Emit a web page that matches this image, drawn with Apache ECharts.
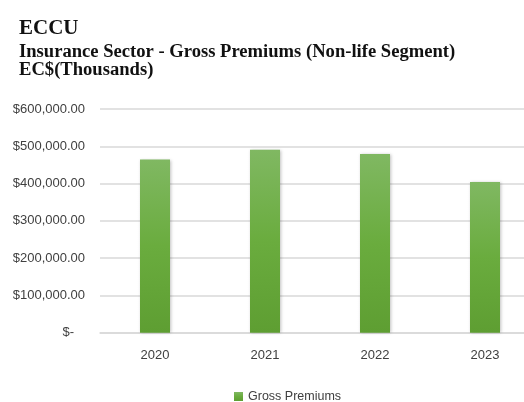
<!DOCTYPE html>
<html>
<head>
<meta charset="utf-8">
<script src="https://cdn.jsdelivr.net/npm/echarts@6/dist/echarts.min.js"></script>
<style>
  html, body { margin: 0; padding: 0; background: #fff; }
  #chart { width: 524px; height: 402px; }
</style>
</head>
<body>
<div id="chart"></div>
<script>
// Gross premiums, non-life segment, EC$ thousands
const years = ['2020', '2021', '2022', '2023'];
const grossPremiums = [464500, 491000, 479500, 404500];
const seriesName = 'Gross Premiums';
const titleLines = ['ECCU', 'Insurance Sector - Gross Premiums (Non-life Segment)', 'EC$(Thousands)'];

const chart = echarts.init(document.getElementById('chart'), null, { renderer: 'canvas' });

function money(v) {
  if (v === 0) return '$-   ';
  return '$' + v.toLocaleString('en-US', { minimumFractionDigits: 2, maximumFractionDigits: 2 });
}

const serif = '"Liberation Serif", "DejaVu Serif", serif';
const sans = '"Liberation Sans", sans-serif';

chart.setOption({
  animation: false,
  backgroundColor: '#ffffff',
  title: [
    { text: titleLines[0], left: 14, top: 13, textStyle: { fontFamily: serif, fontWeight: 'bold', fontSize: 21, color: '#111' } },
    { text: titleLines[1], left: 14, top: 38, textStyle: { fontFamily: serif, fontWeight: 'bold', fontSize: 18.6, color: '#111' } },
    { text: titleLines[2], left: 14, top: 56, textStyle: { fontFamily: serif, fontWeight: 'bold', fontSize: 18.6, color: '#111' } }
  ],
  legend: {
    top: 385,
    left: 229,
    itemWidth: 9,
    itemHeight: 9,
    itemGap: 4,
    icon: 'rect',
    textStyle: { fontFamily: sans, fontSize: 12.5, color: '#404040' },
    data: [seriesName]
  },
  grid: { left: 100, top: 109, right: -16, height: 223.7, outerBoundsMode: 'none', containLabel: false },
  xAxis: {
    type: 'category',
    data: years,
    axisLine: { show: true, lineStyle: { color: '#d9d9d9', width: 1.5 } },
    axisTick: { show: false },
    axisLabel: { fontFamily: sans, fontSize: 13, color: '#404040', margin: 16 }
  },
  yAxis: {
    type: 'value',
    min: 0,
    max: 600000,
    interval: 100000,
    axisLine: { show: false },
    axisTick: { show: false },
    splitLine: { lineStyle: { color: '#d9d9d9', width: 1.5 } },
    axisLabel: { fontFamily: sans, fontSize: 13, color: '#404040', margin: 15, formatter: money }
  },
  series: [{
    name: seriesName,
    type: 'bar',
    data: grossPremiums,
    barWidth: 30,
    itemStyle: {
      color: new echarts.graphic.LinearGradient(0, 0, 0, 1, [
        { offset: 0, color: '#80b862' },
        { offset: 0.5, color: '#6aac3e' },
        { offset: 1, color: '#5e9e32' }
      ]),
      shadowColor: 'rgba(0,0,0,0.25)',
      shadowBlur: 3,
      shadowOffsetX: 1
    }
  }],
  color: ['#70ad47']
});
</script>
</body>
</html>
